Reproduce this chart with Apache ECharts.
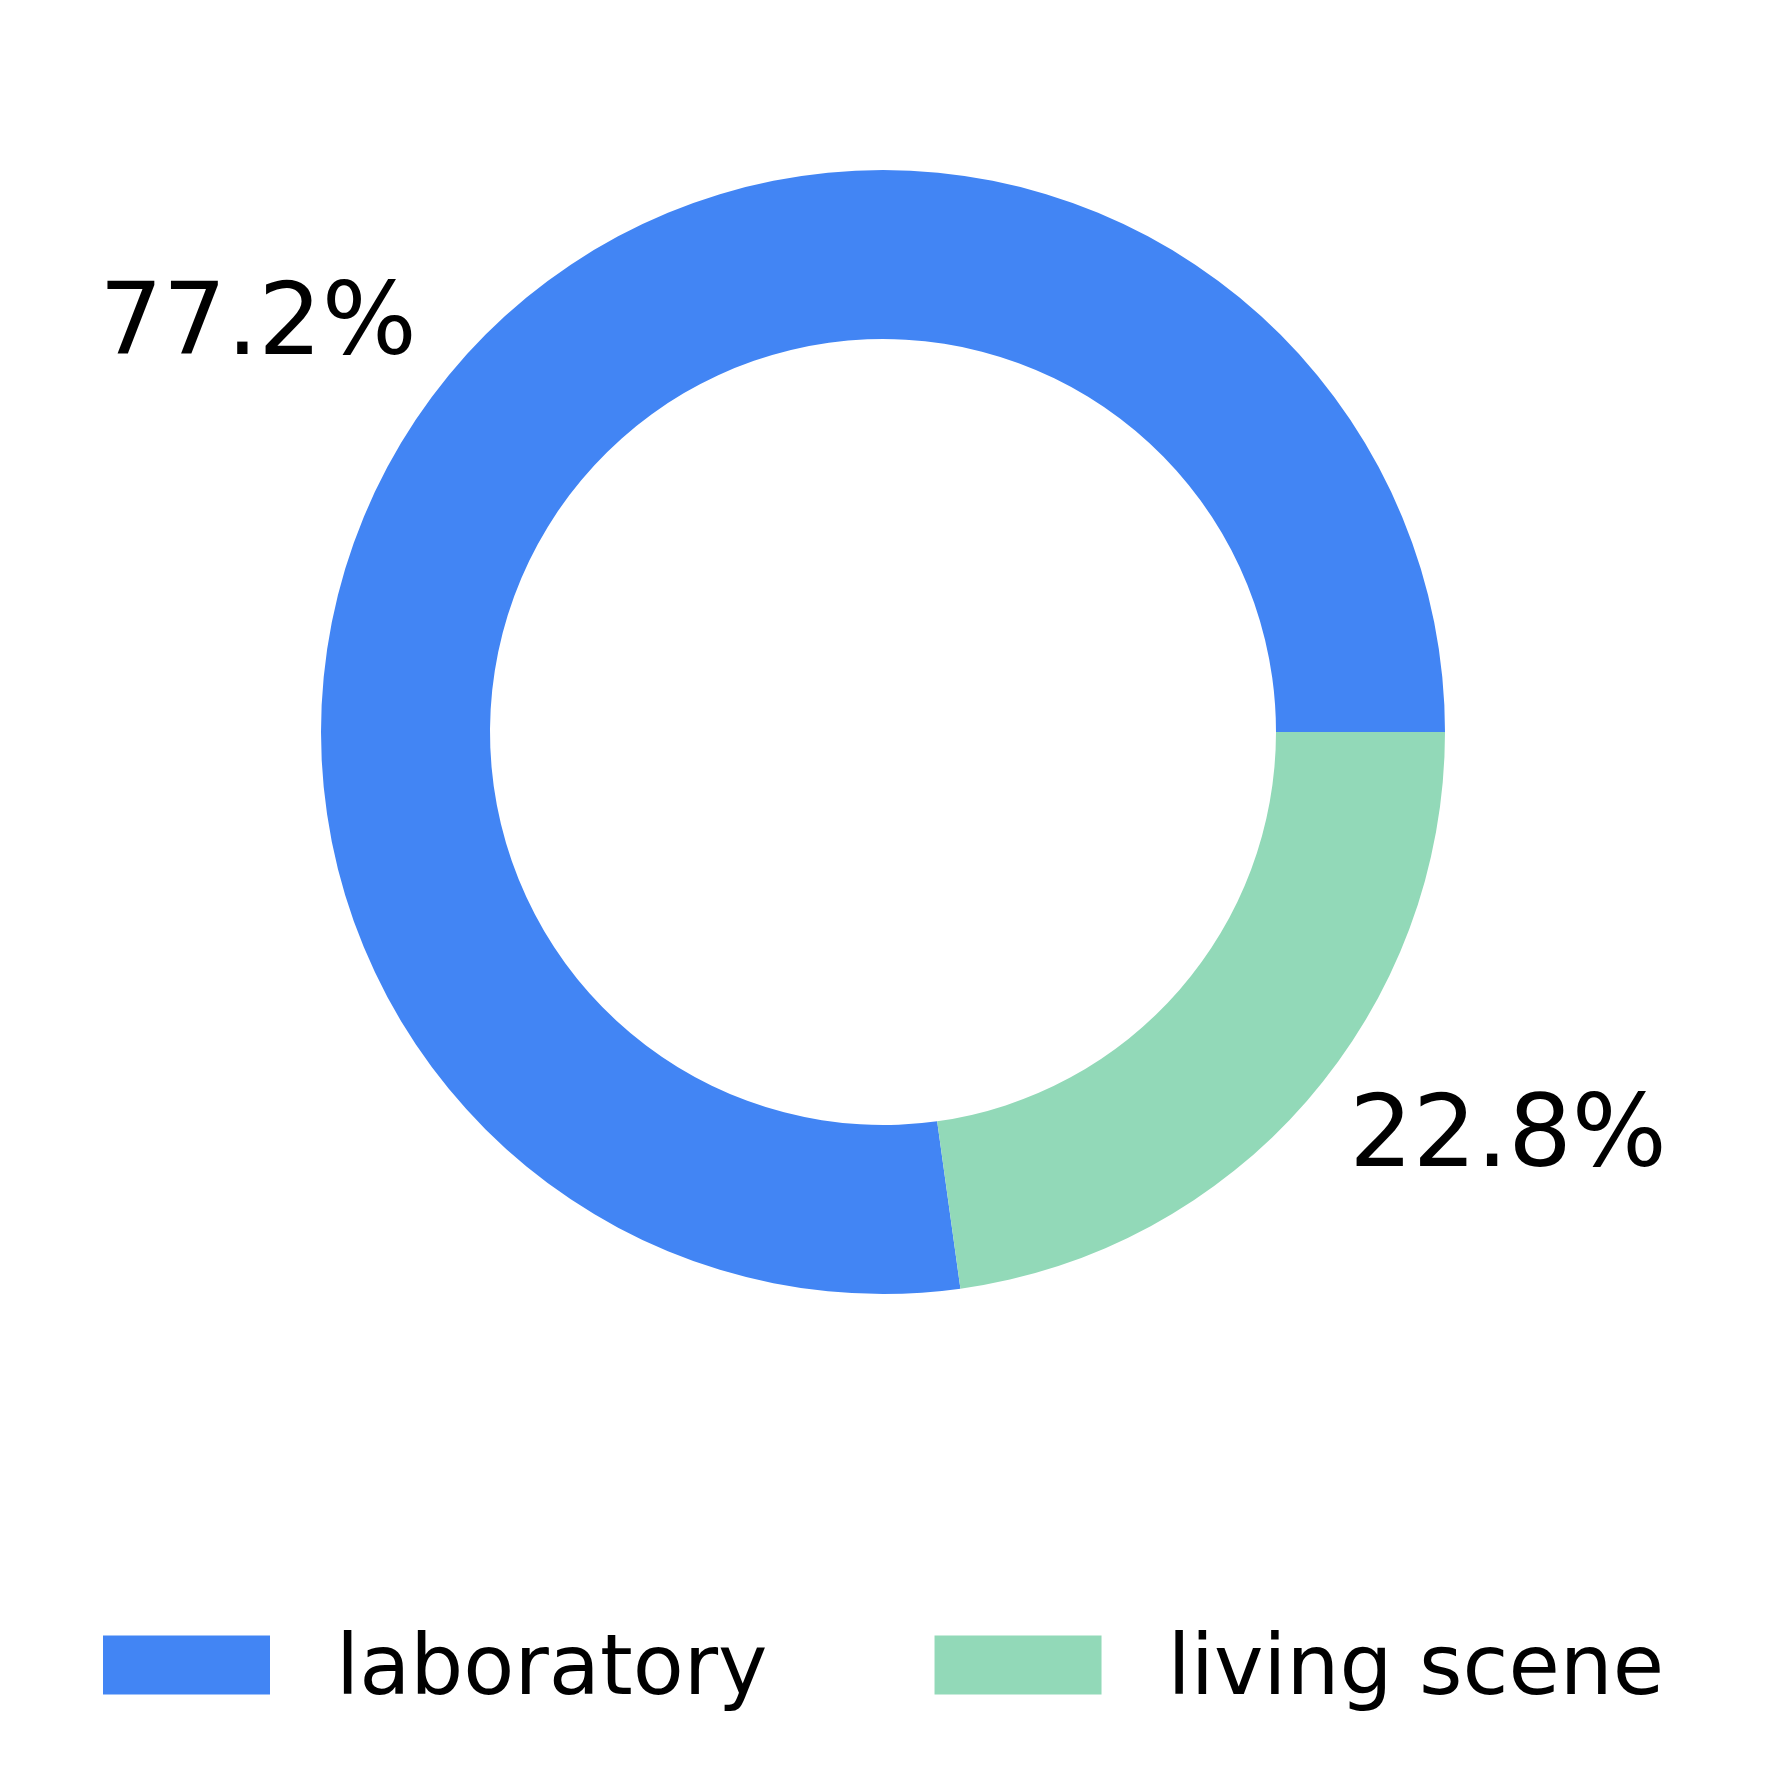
<!DOCTYPE html>
<html>
<head>
<meta charset="utf-8">
<script src="https://cdn.jsdelivr.net/npm/echarts@6/dist/echarts.min.js"></script>
<style>
html,body{margin:0;padding:0;background:#fff;}
#chart{width:1780px;height:1774px;}
</style>
</head>
<body>
<div id="chart"></div>
<script>
const categories = ['laboratory', 'living scene'];
const values = [77.2, 22.8];
const colors = ['#4285F4', '#92D9B8'];

const chart = echarts.init(document.getElementById('chart'), null, {renderer: 'canvas'});
const FONT = 'DejaVu Sans';
const option = {
  backgroundColor: '#ffffff',
  animation: false,
  color: colors,
  legend: {
    data: categories,
    left: 103,
    top: 1616,
    padding: 0,
    orient: 'horizontal',
    icon: 'rect',
    itemWidth: 167,
    itemHeight: 59,
    itemGap: 167,
    formatter: name => '{t|' + name + '}',
    textStyle: {
      fontFamily: FONT,
      fontSize: 83.5,
      color: '#000',
      rich: {
        t: {
          fontFamily: FONT,
          fontSize: 83.5,
          color: '#000',
          lineHeight: 45,
          padding: [14, 0, 0, 61]
        }
      }
    }
  },
  series: [{
    type: 'pie',
    center: [883, 732],
    radius: [393, 562],
    startAngle: 0,
    clockwise: false,
    avoidLabelOverlap: false,
    data: categories.map((c, i) => ({name: c, value: values[i]})),
    itemStyle: {borderWidth: 0},
    label: {
      show: true,
      position: 'outside',
      formatter: p => p.value.toFixed(1) + '%',
      fontFamily: FONT,
      fontSize: 100,
      color: '#000',
      distanceToLabelLine: 0,
      alignTo: 'none'
    },
    labelLine: {show: false, length: 56, length2: 0},
    labelLayout: function () { return {dy: 2}; },
    emphasis: {disabled: true}
  }]
};
chart.setOption(option);
</script>
</body>
</html>
